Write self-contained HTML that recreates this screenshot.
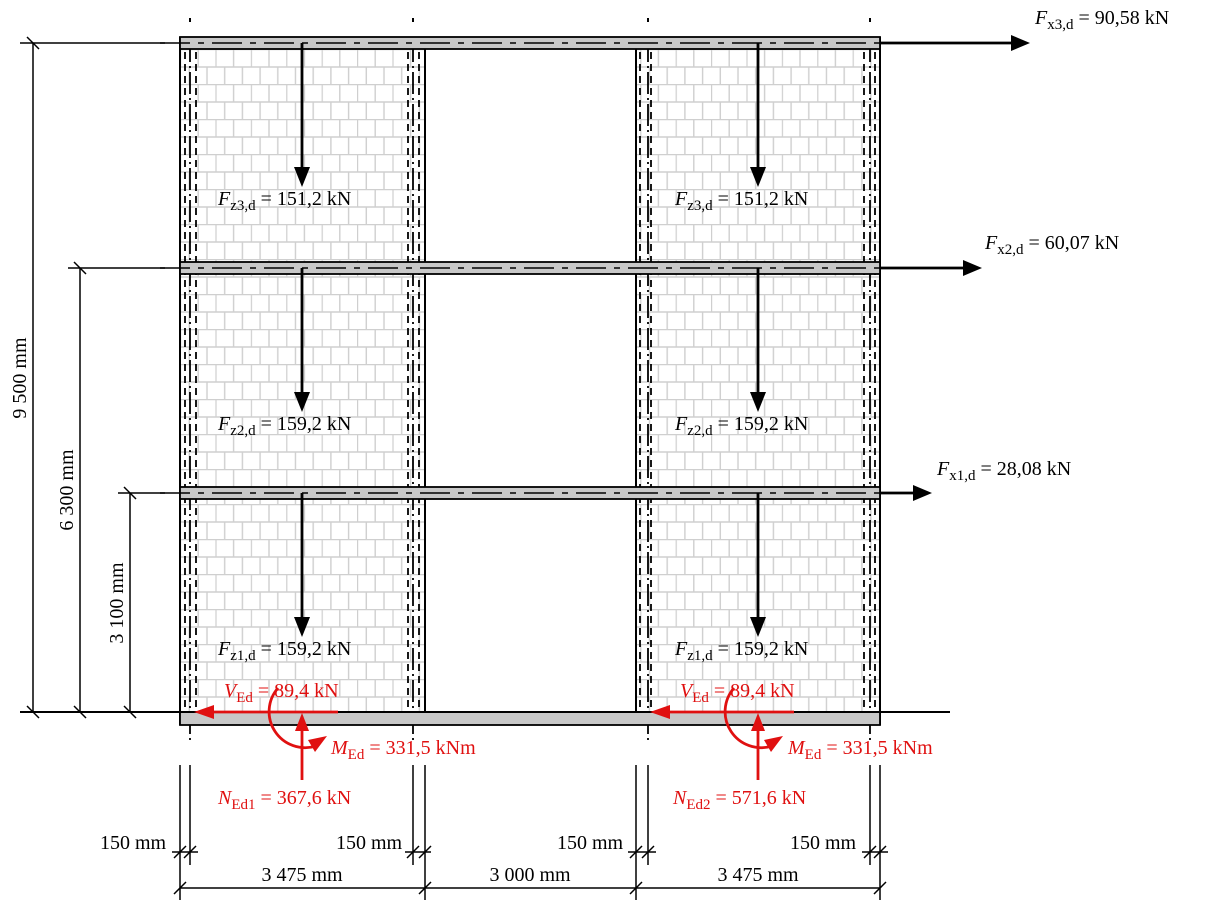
<!DOCTYPE html>
<html><head><meta charset="utf-8"><style>
html,body{margin:0;padding:0;background:#fff;}
svg{display:block;}
text{font-family:"Liberation Serif",serif;font-size:20px;}
.s{font-size:15px;}
.i{font-style:italic;}
.r{fill:#e01010;}
</style></head><body>
<svg width="1213" height="912" viewBox="0 0 1213 912" xmlns="http://www.w3.org/2000/svg">
<defs>
<pattern id="br" x="180" y="49" width="35.4" height="35" patternUnits="userSpaceOnUse">
<rect width="35.4" height="35" fill="#fff"/>
<path d="M0 0.5H35.4M0 18H35.4M0.5 0V17.5M18.2 0V17.5M9.3 17.5V35M27 17.5V35" stroke="#cfcfcf" stroke-width="1.4" fill="none"/>
</pattern>
</defs>

<rect x="180" y="37" width="245" height="675" fill="url(#br)"/>
<rect x="636" y="37" width="244" height="675" fill="url(#br)"/>
<g stroke="#000" stroke-width="2">
<line x1="180" y1="37" x2="180" y2="725"/><line x1="425" y1="37" x2="425" y2="725"/>
<line x1="636" y1="37" x2="636" y2="725"/><line x1="880" y1="37" x2="880" y2="725"/>
</g>
<g stroke="#000" stroke-width="1.8" fill="none">
<g stroke-dasharray="7 5">
<line x1="185" y1="40" x2="185" y2="712"/><line x1="196" y1="40" x2="196" y2="712"/>
<line x1="408" y1="40" x2="408" y2="712"/><line x1="419" y1="40" x2="419" y2="712"/>
<line x1="640" y1="40" x2="640" y2="712"/><line x1="651" y1="40" x2="651" y2="712"/>
<line x1="864" y1="40" x2="864" y2="712"/><line x1="875" y1="40" x2="875" y2="712"/>
</g>
<g stroke-dasharray="22 4 2 4">
<line x1="190" y1="40" x2="190" y2="740"/><line x1="413" y1="40" x2="413" y2="740"/>
<line x1="648" y1="40" x2="648" y2="740"/><line x1="870" y1="40" x2="870" y2="740"/>
</g>
</g>
<g fill="#000"><rect x="189" y="18" width="2" height="4"/><rect x="412" y="18" width="2" height="4"/><rect x="647" y="18" width="2" height="4"/><rect x="869" y="18" width="2" height="4"/></g>

<g fill="#c8c8c8" stroke="#000" stroke-width="1.8">
<rect x="180" y="37" width="700" height="12"/>
<rect x="180" y="262" width="700" height="12"/>
<rect x="180" y="487" width="700" height="12"/>
<rect x="180" y="712" width="700" height="13"/>
</g>
<g stroke="#000" stroke-width="1.6" stroke-dasharray="30 8 6 8">
<line x1="160" y1="43" x2="880" y2="43"/>
<line x1="160" y1="268" x2="880" y2="268"/>
<line x1="160" y1="493" x2="880" y2="493"/>
</g>
<line x1="20" y1="712" x2="950" y2="712" stroke="#000" stroke-width="2"/>

<g stroke="#000" stroke-width="2.8">
<line x1="880" y1="43" x2="1015" y2="43"/>
<line x1="880" y1="268" x2="965" y2="268"/>
<line x1="880" y1="493" x2="915" y2="493"/>
</g>
<g fill="#000">
<path d="M1030 43L1011 35L1011 51z"/><path d="M982 268L963 260L963 276z"/><path d="M932 493L913 485L913 501z"/>
</g>
<text x="1035" y="24"><tspan class="i">F</tspan><tspan class="s" dy="5">x3,d</tspan><tspan dy="-5"> = 90,58 kN</tspan></text>
<text x="985" y="249"><tspan class="i">F</tspan><tspan class="s" dy="5">x2,d</tspan><tspan dy="-5"> = 60,07 kN</tspan></text>
<text x="937" y="475"><tspan class="i">F</tspan><tspan class="s" dy="5">x1,d</tspan><tspan dy="-5"> = 28,08 kN</tspan></text>

<g stroke="#000" stroke-width="2.8">
<line x1="302" y1="43" x2="302" y2="180"/><line x1="758" y1="43" x2="758" y2="180"/>
<line x1="302" y1="268" x2="302" y2="405"/><line x1="758" y1="268" x2="758" y2="405"/>
<line x1="302" y1="493" x2="302" y2="630"/><line x1="758" y1="493" x2="758" y2="630"/>
</g>
<g fill="#000">
<path d="M294 167L310 167L302 187z"/><path d="M750 167L766 167L758 187z"/>
<path d="M294 392L310 392L302 412z"/><path d="M750 392L766 392L758 412z"/>
<path d="M294 617L310 617L302 637z"/><path d="M750 617L766 617L758 637z"/>
</g>
<g>
<text x="218" y="205"><tspan class="i">F</tspan><tspan class="s" dy="5">z3,d</tspan><tspan dy="-5"> = 151,2 kN</tspan></text>
<text x="675" y="205"><tspan class="i">F</tspan><tspan class="s" dy="5">z3,d</tspan><tspan dy="-5"> = 151,2 kN</tspan></text>
<text x="218" y="430"><tspan class="i">F</tspan><tspan class="s" dy="5">z2,d</tspan><tspan dy="-5"> = 159,2 kN</tspan></text>
<text x="675" y="430"><tspan class="i">F</tspan><tspan class="s" dy="5">z2,d</tspan><tspan dy="-5"> = 159,2 kN</tspan></text>
<text x="218" y="655"><tspan class="i">F</tspan><tspan class="s" dy="5">z1,d</tspan><tspan dy="-5"> = 159,2 kN</tspan></text>
<text x="675" y="655"><tspan class="i">F</tspan><tspan class="s" dy="5">z1,d</tspan><tspan dy="-5"> = 159,2 kN</tspan></text>
</g>

<g>
<g stroke="#e01010" stroke-width="2.8" fill="none">
<line x1="338" y1="712" x2="205" y2="712"/>
<line x1="302" y1="780" x2="302" y2="728"/>
<path d="M278 688 A36 36 0 0 0 316 746"/>
<line x1="794" y1="712" x2="661" y2="712"/>
<line x1="758" y1="780" x2="758" y2="728"/>
<path d="M734 688 A36 36 0 0 0 772 746"/>
</g>
<g fill="#e01010">
<path d="M194 712L214 705L214 719z"/><path d="M302 713L295 731L309 731z"/><path d="M308 740L327 736L315 752z"/>
<path d="M650 712L670 705L670 719z"/><path d="M758 713L751 731L765 731z"/><path d="M764 740L783 736L771 752z"/>
</g>
<text class="r" x="224" y="697"><tspan class="i">V</tspan><tspan class="s" dy="5">Ed</tspan><tspan dy="-5"> = 89,4 kN</tspan></text>
<text class="r" x="680" y="697"><tspan class="i">V</tspan><tspan class="s" dy="5">Ed</tspan><tspan dy="-5"> = 89,4 kN</tspan></text>
<text class="r" x="331" y="754"><tspan class="i">M</tspan><tspan class="s" dy="5">Ed</tspan><tspan dy="-5"> = 331,5 kNm</tspan></text>
<text class="r" x="788" y="754"><tspan class="i">M</tspan><tspan class="s" dy="5">Ed</tspan><tspan dy="-5"> = 331,5 kNm</tspan></text>
<text class="r" x="218" y="804"><tspan class="i">N</tspan><tspan class="s" dy="5">Ed1</tspan><tspan dy="-5"> = 367,6 kN</tspan></text>
<text class="r" x="673" y="804"><tspan class="i">N</tspan><tspan class="s" dy="5">Ed2</tspan><tspan dy="-5"> = 571,6 kN</tspan></text>
</g>

<g stroke="#000" stroke-width="1.5">
<line x1="20" y1="43" x2="165" y2="43"/>
<line x1="68" y1="268" x2="165" y2="268"/>
<line x1="118" y1="493" x2="165" y2="493"/>
<line x1="33" y1="43" x2="33" y2="712"/>
<line x1="80" y1="268" x2="80" y2="712"/>
<line x1="130" y1="493" x2="130" y2="712"/>
<line x1="27" y1="37" x2="39" y2="49"/><line x1="27" y1="706" x2="39" y2="718"/>
<line x1="74" y1="262" x2="86" y2="274"/><line x1="74" y1="706" x2="86" y2="718"/>
<line x1="124" y1="487" x2="136" y2="499"/><line x1="124" y1="706" x2="136" y2="718"/>
</g>
<text transform="translate(26,378) rotate(-90)" text-anchor="middle">9 500 mm</text>
<text transform="translate(73,490) rotate(-90)" text-anchor="middle">6 300 mm</text>
<text transform="translate(123,603) rotate(-90)" text-anchor="middle">3 100 mm</text>

<g stroke="#000" stroke-width="1.5">
<line x1="180" y1="765" x2="180" y2="900"/><line x1="190" y1="765" x2="190" y2="865"/>
<line x1="413" y1="765" x2="413" y2="865"/><line x1="425" y1="765" x2="425" y2="900"/>
<line x1="636" y1="765" x2="636" y2="900"/><line x1="648" y1="765" x2="648" y2="865"/>
<line x1="870" y1="765" x2="870" y2="865"/><line x1="880" y1="765" x2="880" y2="900"/>
<line x1="172" y1="852" x2="198" y2="852"/><line x1="405" y1="852" x2="431" y2="852"/>
<line x1="628" y1="852" x2="656" y2="852"/><line x1="862" y1="852" x2="888" y2="852"/>
<line x1="180" y1="888" x2="880" y2="888"/>
<line x1="174" y1="858" x2="186" y2="846"/><line x1="184" y1="858" x2="196" y2="846"/>
<line x1="407" y1="858" x2="419" y2="846"/><line x1="419" y1="858" x2="431" y2="846"/>
<line x1="630" y1="858" x2="642" y2="846"/><line x1="642" y1="858" x2="654" y2="846"/>
<line x1="864" y1="858" x2="876" y2="846"/><line x1="874" y1="858" x2="886" y2="846"/>
<line x1="174" y1="894" x2="186" y2="882"/><line x1="419" y1="894" x2="431" y2="882"/>
<line x1="630" y1="894" x2="642" y2="882"/><line x1="874" y1="894" x2="886" y2="882"/>
</g>
<text x="100" y="849">150 mm</text>
<text x="336" y="849">150 mm</text>
<text x="557" y="849">150 mm</text>
<text x="790" y="849">150 mm</text>
<text x="302" y="881" text-anchor="middle">3 475 mm</text>
<text x="530" y="881" text-anchor="middle">3 000 mm</text>
<text x="758" y="881" text-anchor="middle">3 475 mm</text>
</svg>
</body></html>
